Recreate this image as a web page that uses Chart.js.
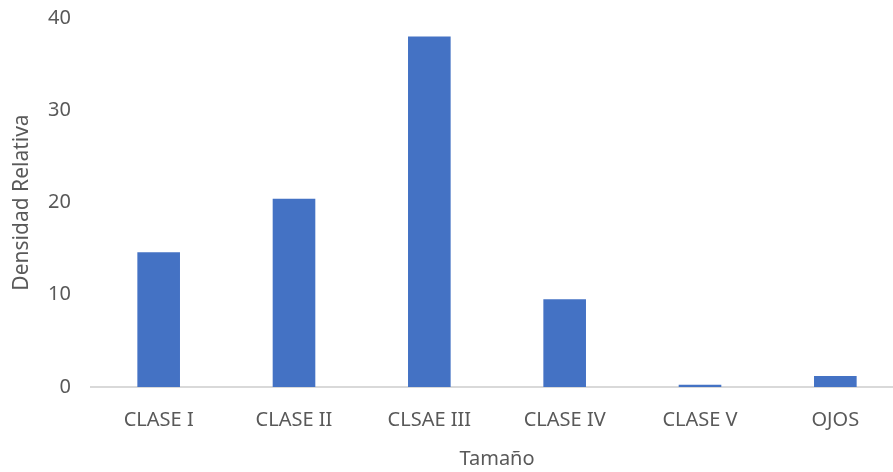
<!DOCTYPE html>
<html>
<head>
<meta charset="utf-8">
<script src="https://cdn.jsdelivr.net/npm/chart.js@4"></script>
<style>
  html, body { margin: 0; padding: 0; background: #fff; overflow: hidden; }
  #wrap { width: 903px; height: 472px; }
</style>
</head>
<body>
<div id="wrap"><canvas id="chart"></canvas></div>
<script>
// ── Data ────────────────────────────────────────────────────────────

const CATEGORIES = ['CLASE I', 'CLASE II', 'CLSAE III', 'CLASE IV', 'CLASE V', 'OJOS'];
const DENSIDAD = [14.6, 20.4, 38.0, 9.5, 0.25, 1.2];
const Y_TICKS = [0, 10, 20, 30, 40];

// ── Chart ───────────────────────────────────────────────────────────

const TEXT = '#595959';
const FONT = 'Noto Sans';

Chart.defaults.font.family = FONT;
Chart.defaults.color = TEXT;

new Chart(document.getElementById('chart'), {
  type: 'bar',
  data: {
    labels: CATEGORIES,
    datasets: [{
      label: 'Densidad Relativa',
      data: DENSIDAD,
      backgroundColor: '#4472C4',
      borderWidth: 0,
      categoryPercentage: 1,
      barPercentage: 0.315,
    }],
  },
  options: {
    responsive: true,
    maintainAspectRatio: false,
    animation: false,
    layout: { padding: { top: 18, right: 0, bottom: 0, left: 0 } },
    plugins: {
      legend: { display: false },
      tooltip: { enabled: false },
    },
    scales: {
      x: {
        grid: { display: false, drawTicks: false },
        border: { display: true, color: '#d9d9d9', width: 2 },
        ticks: { font: { size: 20 }, padding: 21, maxRotation: 0, autoSkip: false },
        title: {
          display: true,
          text: 'Tamaño',
          font: { size: 20 },
          padding: { top: 0, bottom: 1 },
        },
        afterFit: scale => {
          scale.height = 85;
          scale.paddingLeft = 0;
          scale.paddingRight = 0;
        },
      },
      y: {
        min: Y_TICKS[0],
        max: Y_TICKS[Y_TICKS.length - 1],
        grid: { display: false, drawTicks: false },
        border: { display: false },
        afterBuildTicks: scale => { scale.ticks = Y_TICKS.map(v => ({ value: v })); },
        ticks: { font: { size: 20 }, padding: 20 },
        title: {
          display: true,
          text: 'Densidad Relativa',
          font: { size: 21 },
          padding: { top: 9, bottom: 0 },
        },
        afterFit: scale => {
          scale.width = 91;
          scale.paddingTop = 0;
          scale.paddingBottom = 0;
        },
      },
    },
  },
});
</script>
</body>
</html>
